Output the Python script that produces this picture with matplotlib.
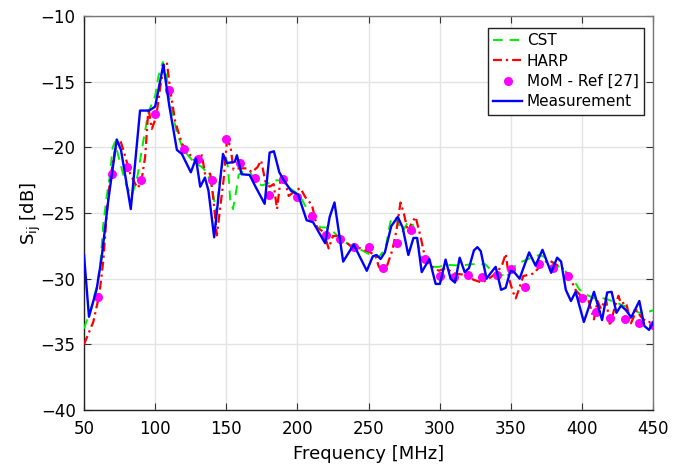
import matplotlib
matplotlib.use("Agg")
import matplotlib.pyplot as plt

# ---------------- data ----------------
meas_f = [50, 53.5, 58.9, 62.4, 67.1, 73.0, 76.0, 82.9, 89.4, 95.8, 100.0, 105.8, 109.9,
          115.3, 118.8, 125.1, 128.7, 131.7, 135.0, 137.5, 141.5, 147.7, 150.4, 156.0,
          157.5, 160.8, 166.4, 170.4, 177.0, 180.5, 183.5, 187.3, 190.4, 195.5, 200.5,
          206.5, 211.0, 219.5, 222.7, 226.1, 232.2, 239.6, 248.8, 253.0, 255.6, 258.5,
          261.5, 266.0, 270.6, 274.0, 278.0, 281.6, 284.2, 287.4, 292.8, 297.2, 300.2,
          304.2, 307.7, 310.8, 314.1, 317.6, 320.6, 324.1, 326.5, 328.9, 333.0, 336.4,
          339.4, 343.2, 346.4, 349.8, 352.4, 356.2, 362.9, 367.4, 372.3, 378.4, 382.6,
          385.4, 388.7, 392.3, 395.6, 401.4, 408.5, 414.2, 417.8, 420.9, 424.3, 427.5,
          431.0, 434.7, 440.4, 443.9, 447.2, 450.5]
meas_s = [-28.2, -32.9, -30.8, -28.4, -24.0, -19.4, -20.2, -24.7, -17.2, -17.2, -16.9, -13.7, -16.8,
          -20.2, -20.5, -21.9, -20.85, -23.0, -22.3, -23.3, -26.85, -20.5, -21.2, -21.1,
          -20.6, -22.05, -22.1, -22.96, -24.3, -20.4, -20.3, -21.9, -22.5, -23.3, -23.6,
          -25.55, -25.7, -27.3, -25.3, -24.2, -28.7, -27.4, -29.4, -28.3, -28.2, -28.5,
          -28.0, -26.0, -25.3, -26.1, -28.2, -26.9, -26.9, -29.5, -28.5, -30.4, -30.4,
          -28.55, -30.0, -30.3, -28.4, -29.5, -29.2, -27.85, -27.6, -27.9, -30.0, -29.5,
          -29.1, -30.85, -30.7, -29.4, -29.5, -30.0, -28.0, -29.0, -27.8, -29.55, -28.4,
          -28.7, -30.85, -31.7, -31.0, -33.3, -31.0, -33.15, -31.05, -31.0, -32.6, -32.05,
          -32.4, -32.95, -31.7, -33.6, -33.9, -33.25]

cst_f = [50, 55.4, 58.9, 61.3, 63.6, 66.0, 68.0, 70.2, 71.8, 75.4, 80.1, 83.6, 87.5, 91.8,
         95.3, 100.0, 102.3, 105.4, 107.5, 110.6, 115.3, 119.9, 127.0, 132.9, 136.4, 139.9,
         143.0, 145.5, 148.0, 149.5, 151.2, 152.8, 154.7, 156.3, 158.7, 162.2, 166.9, 170.4,
         175.1, 185.7, 190.4, 193.2, 199.8, 203.3, 206.8, 210.3, 216.2, 222.0, 230.3, 237.3,
         245.6, 251.4, 257.3, 262.0, 264.4, 266.0, 269.0, 273.7, 277.2, 280.7, 284.2, 287.7,
         293.7, 299.5, 304.2, 316.0, 321.8, 332.0, 339.4, 346.5, 354.7, 363.5, 370.0, 375.0,
         384.0, 392.3, 398.1, 402.8, 408.7, 415.7, 424.0, 432.2, 440.4, 447.4, 450.4]
cst_s = [-33.8, -32.1, -30.6, -29.1, -25.8, -23.7, -22.3, -20.0, -19.6, -21.2, -23.0, -23.7, -22.25, -19.45,
         -17.3, -16.1, -14.6, -13.5, -14.1, -16.65, -18.9, -20.2, -21.1, -21.5, -21.9, -23.0,
         -25.0, -22.5, -20.8, -20.6, -21.5, -24.0, -24.7, -23.8, -22.1, -21.8, -21.9, -22.6,
         -22.9, -22.5, -22.6, -23.0, -23.5, -24.0, -24.7, -25.2, -26.1, -26.1, -26.95, -27.5,
         -27.85, -28.2, -28.35, -27.7, -26.2, -25.4, -25.3, -26.45, -25.8, -25.7, -27.1, -28.5,
         -29.1, -29.1, -28.95, -29.0, -28.9, -28.9, -29.7, -29.75, -28.85, -28.45, -28.2, -28.4,
         -29.1, -29.75, -30.8, -31.2, -31.5, -31.5, -31.8, -32.2, -32.6, -32.5, -32.4]

harp_f = [50, 56.5, 60.8, 63.6, 66.0, 68.3, 71.8, 75.4, 77.7, 82.4, 87.5, 90.1, 93.0, 95.3,
          97.7, 100.7, 104.0, 106.3, 108.2, 110.6, 114.1, 118.8, 124.7, 129.4, 132.9, 135.2,
          138.7, 141.0, 143.4, 148.1, 150.4, 152.8, 155.1, 158.7, 164.6, 168.1, 172.0, 174.5,
          177.5, 180.5, 183.3, 185.7, 188.0, 191.5, 193.9, 198.6, 202.1, 205.6, 210.3, 213.8,
          218.5, 222.0, 225.0, 229.0, 237.3, 244.4, 251.4, 255.0, 257.3, 260.8, 263.1, 266.7,
          269.7, 272.5, 274.9, 277.7, 280.1, 283.1, 286.6, 290.1, 294.8, 299.5, 304.2, 310.0,
          317.1, 324.2, 330.0, 335.9, 340.6, 344.1, 346.5, 348.8, 351.5, 353.5, 355.8, 358.8,
          366.4, 372.3, 377.0, 382.9, 387.5, 392.3, 395.8, 399.3, 404.0, 408.5, 411.0, 413.4,
          416.9, 419.8, 423.0, 425.7, 427.5, 431.0, 434.5, 438.5, 441.5, 445.5, 448.0, 450.5]
harp_s = [-35.0, -33.3, -31.2, -28.6, -25.0, -22.5, -20.2, -19.45, -20.2, -22.0, -23.1, -22.75, -20.7, -17.0,
          -18.6, -17.7, -15.1, -13.7, -13.5, -15.6, -18.05, -19.7, -20.6, -21.2, -20.6, -22.1,
          -22.0, -24.0, -26.7, -22.5, -19.6, -19.8, -21.7, -21.6, -21.6, -21.9, -21.5, -21.0,
          -22.6, -23.0, -22.8, -24.7, -22.6, -22.7, -23.7, -23.3, -23.1, -23.8, -24.4, -26.1,
          -26.45, -27.7, -26.75, -26.75, -27.5, -27.7, -28.0, -28.3, -29.1, -29.5, -29.0, -27.85,
          -26.3, -24.2, -25.05, -26.45, -25.8, -25.3, -26.8, -28.6, -29.1, -29.4, -29.2, -29.6,
          -29.7, -30.1, -30.3, -29.9, -29.5, -28.9, -28.1, -30.0, -31.0, -31.5, -30.8, -29.8,
          -29.6, -28.8, -28.6, -29.0, -29.3, -30.1, -30.9, -31.3, -31.4, -33.1, -31.7, -32.3,
          -31.5, -33.6, -32.2, -31.3, -31.9, -31.8, -33.4, -32.4, -32.9, -33.3, -33.3, -33.0]

mom_f = [60, 70, 80, 90, 100, 110, 120, 130, 140, 150, 160, 170, 180, 190, 200, 210, 220, 230,
         240, 250, 260, 270, 280, 290, 300, 310, 320, 330, 340, 350, 360, 370, 380, 390, 400,
         410, 420, 430, 440, 450]
mom_s = [-31.4, -22.0, -21.5, -22.5, -17.5, -15.6, -20.1, -20.9, -22.5, -19.4, -21.2, -22.3, -23.6,
         -22.4, -23.8, -25.2, -26.7, -26.95, -27.6, -27.6, -29.2, -27.3, -26.3, -28.5, -29.8, -29.9,
         -29.7, -29.9, -29.7, -29.3, -30.6, -28.9, -29.2, -29.8, -31.5, -32.5, -33.0, -33.1, -33.4,
         -33.5]

x_ticks = [50, 100, 150, 200, 250, 300, 350, 400, 450]
y_ticks = [-40, -35, -30, -25, -20, -15, -10]

# ---------------- figure ----------------
plt.rcParams['font.family'] = ['DejaVu Sans']
fig = plt.figure(figsize=(6.96, 4.65), dpi=100)
ax = fig.add_axes([84/696, 1 - 410/465, 569/696, 394/465])

ax.plot(cst_f, cst_s, color='#00ee00', lw=1.4, linestyle=(0, (5, 3.5)), label='CST', zorder=3)
ax.plot(harp_f, harp_s, color='#ff0000', lw=1.6, linestyle=(0, (4, 1.8, 1, 1.8)), label='HARP', zorder=4)
ax.plot(mom_f, mom_s, linestyle='none', marker='o', markersize=6.5, color='#ff00ff',
        markeredgewidth=0, label='MoM - Ref [27]', zorder=5)
ax.plot(meas_f, meas_s, color='#0000ff', lw=1.7, label='Measurement', zorder=6)

ax.set_xlim(50, 450)
ax.set_ylim(-40, -10)
ax.set_xticks(x_ticks)
ax.set_yticks(y_ticks)
ax.tick_params(direction='in', length=5, labelsize=12, top=True, right=True,
               color='#333333')
ax.tick_params(axis='x', pad=7)
ax.tick_params(axis='y', pad=6)
ax.grid(True, color='#e3e3e3', lw=1)
ax.set_axisbelow(True)
for s in ['left', 'bottom']:
    ax.spines[s].set_color('#222222')
for s in ['top', 'right']:
    ax.spines[s].set_color('#777777')
for s in ax.spines.values():
    s.set_linewidth(1.0)

ax.set_xlabel('Frequency [MHz]', fontsize=13, labelpad=5)
ax.set_ylabel(r'S$_{\mathrm{ij}}$ [dB]', fontsize=13, labelpad=-2)

leg = ax.legend(loc='upper right', bbox_to_anchor=(560/569, 382/394), borderaxespad=0,
                fancybox=False, framealpha=1, edgecolor='#222222', fontsize=11,
                handlelength=1.9, handletextpad=0.3, labelspacing=0.35, borderpad=0.35)
leg.get_frame().set_linewidth(1.0)

fig.savefig('out.png', dpi=100)
